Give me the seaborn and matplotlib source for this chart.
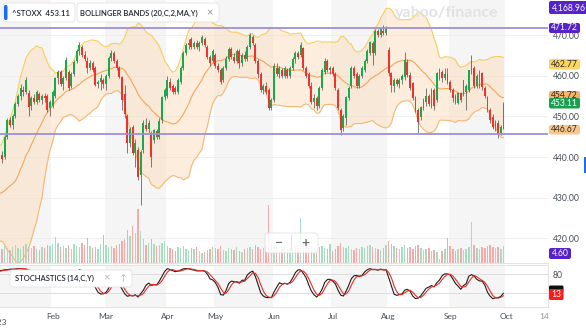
import numpy as np
import pandas as pd
import matplotlib
matplotlib.use("Agg")
import matplotlib.pyplot as plt
import seaborn as sns
from matplotlib.patches import FancyBboxPatch, Rectangle
from matplotlib.transforms import IdentityTransform

sns.set_theme(style="white")
plt.rcParams["font.family"] = ["Lato", "DejaVu Sans"]

# ---------------- data ----------------
holidays = ["2023-04-07", "2023-04-10", "2023-05-01"]
dec_closes = [441.5, 439.0, 437.5, 434.5, 435.5, 437.0, 436.0, 440.5, 440.0, 428.5,
              424.0, 425.0, 423.5, 429.5, 424.5, 426.0, 428.5, 425.5, 430.5, 424.9]

opens = [
    425.0, 431.5, 435.0, 440.5, 440.0, 445.0, 449.0, 448.0, 450.0, 453.0, 455.0, 456.5, 456.0, 455.7, 452.5, 454.5, 453.5, 455.5, 454.0, 455.0, 455.0, 452.0,
    452.5, 455.0, 459.5, 461.0, 458.0, 459.5, 461.0, 457.5, 460.5, 463.5, 466.0, 467.0, 465.0, 463.5, 462.0, 463.0, 461.9, 458.0, 458.5, 459.0,
    458.0, 460.0, 464.3, 465.5, 463.5, 462.0, 459.7, 455.5, 450.0, 443.5, 447.4, 441.0, 441.7, 435.5, 441.7, 448.0, 447.0, 446.0, 444.2, 446.5, 445.0, 449.0, 454.8,
    455.0, 458.5, 457.5, 457.0, 456.0, 458.5, 462.0, 465.5, 467.5, 469.0, 467.0, 468.0, 467.0, 468.0, 469.0, 467.0, 464.5, 463.5,
    465.0, 462.5, 461.5, 459.0, 462.0, 464.0, 466.5, 464.5, 463.5, 466.0, 463.0, 465.0, 464.0, 467.0, 469.5, 467.5, 463.5, 460.5, 456.5, 457.5, 456.5, 452.0,
    454.0, 462.0, 460.5, 461.5, 460.0, 461.5, 460.0, 462.0, 464.0, 465.5, 465.0, 466.7, 462.0, 460.5, 457.5, 453.5, 454.5, 452.5, 457.0, 461.0, 463.5, 461.5,
    462.0, 460.5, 456.5, 451.6, 447.2, 449.5, 454.5, 457.5, 462.0, 460.5, 457.5, 460.0, 461.5, 463.5, 465.6, 468.0, 465.6, 471.0, 470.0, 471.0, 470.5,
    466.3, 460.6, 457.5, 459.0, 458.0, 459.0, 459.7, 463.4, 460.2, 458.2, 454.8, 451.6, 449.9, 452.0, 453.5, 455.0, 452.3, 456.5, 454.0, 459.5, 461.0, 459.5, 460.5,
    458.4, 456.5, 455.0, 453.3, 455.7, 455.7, 456.0, 456.5, 461.0, 462.0, 457.5, 459.5, 460.6, 457.0, 454.8, 451.6, 449.9, 447.5, 448.5, 446.0, 447.2,
]
highs = [
    432.0, 436.5, 441.0, 441.5, 445.5, 449.5, 449.8, 450.5, 453.5, 455.5, 458.0, 457.5, 459.8, 456.5, 455.0, 455.5, 456.5, 456.0, 455.5, 455.8, 455.5, 454.0,
    456.5, 459.8, 461.5, 461.5, 460.0, 464.6, 461.5, 461.0, 463.8, 466.5, 468.3, 467.5, 466.0, 464.5, 463.8, 463.5, 462.5, 459.0, 460.5, 459.5,
    460.5, 464.8, 466.3, 466.0, 464.0, 462.5, 460.0, 457.7, 450.5, 447.5, 448.0, 444.5, 442.5, 441.7, 449.0, 449.5, 449.0, 446.5, 447.0, 447.0, 449.5, 455.0, 457.0,
    460.0, 459.5, 458.0, 457.5, 459.5, 462.5, 466.0, 468.0, 469.0, 469.5, 468.5, 468.8, 468.5, 470.0, 469.5, 467.5, 465.0, 466.5,
    465.5, 463.0, 462.0, 462.5, 464.8, 467.0, 467.0, 465.5, 466.5, 466.5, 465.5, 466.0, 467.5, 470.5, 470.0, 468.0, 464.0, 461.0, 458.0, 458.5, 457.0, 454.5,
    463.0, 463.0, 462.5, 462.0, 462.5, 462.0, 462.5, 464.5, 466.0, 466.0, 468.3, 467.0, 462.5, 461.0, 458.5, 455.5, 455.0, 457.5, 462.0, 464.3, 464.0, 462.5,
    462.5, 461.0, 457.0, 452.0, 450.5, 455.0, 457.5, 462.5, 462.5, 461.0, 460.5, 462.5, 464.0, 466.5, 468.5, 468.5, 471.5, 471.5, 472.0, 472.5, 472.3,
    467.0, 461.0, 459.5, 459.5, 459.5, 460.5, 465.8, 464.0, 460.8, 458.5, 455.0, 452.0, 452.5, 454.5, 457.0, 455.5, 457.0, 457.0, 461.0, 462.0, 461.5, 462.0, 462.0,
    459.0, 457.0, 455.5, 456.0, 456.0, 459.0, 458.0, 461.5, 465.0, 462.5, 460.5, 461.5, 461.0, 457.5, 455.0, 452.0, 450.5, 449.0, 449.0, 448.0, 453.5,
]
lows = [
    424.5, 430.5, 434.5, 438.5, 439.5, 444.5, 447.5, 447.0, 449.5, 452.5, 454.0, 455.0, 455.5, 450.0, 451.5, 453.0, 453.0, 453.5, 453.0, 453.5, 451.2, 450.0,
    452.0, 454.5, 458.0, 457.5, 456.5, 459.0, 456.5, 457.0, 460.0, 463.0, 465.0, 464.5, 463.5, 460.6, 461.5, 461.0, 457.5, 457.0, 456.5, 457.0,
    456.5, 459.5, 463.5, 463.0, 461.5, 459.5, 451.6, 449.5, 441.0, 442.5, 440.5, 437.5, 434.4, 428.2, 441.0, 446.5, 446.0, 437.6, 443.5, 444.5, 444.5, 448.5, 454.0,
    454.5, 456.5, 455.5, 455.5, 455.5, 458.0, 461.5, 465.0, 466.5, 466.5, 466.5, 466.5, 466.0, 467.5, 467.0, 464.0, 462.5, 463.0,
    462.0, 461.0, 458.0, 458.5, 461.5, 463.5, 464.0, 463.0, 463.0, 462.0, 462.5, 463.5, 463.5, 466.5, 467.5, 463.0, 459.5, 456.0, 455.5, 455.5, 451.5, 451.5,
    453.5, 460.0, 459.5, 459.5, 459.5, 459.5, 459.5, 461.5, 463.0, 464.0, 464.5, 461.5, 459.5, 457.0, 453.0, 452.0, 451.5, 452.0, 456.5, 460.5, 461.0, 460.5,
    460.0, 456.5, 451.5, 445.4, 446.5, 448.0, 454.0, 457.0, 459.5, 457.0, 457.0, 459.5, 461.0, 463.0, 465.0, 462.6, 465.0, 469.5, 469.5, 470.0, 470.0,
    460.0, 456.0, 456.0, 457.5, 457.0, 458.0, 459.0, 459.8, 456.5, 454.0, 451.2, 446.0, 449.0, 451.5, 452.5, 452.5, 452.0, 451.6, 453.5, 459.0, 458.5, 459.0, 458.0,
    456.0, 453.5, 453.0, 453.0, 453.5, 455.0, 451.5, 456.0, 460.5, 457.0, 457.0, 457.0, 456.5, 454.5, 451.2, 448.5, 447.0, 446.5, 444.7, 445.5, 447.0,
]
closes = [
    431.0, 435.5, 440.5, 439.5, 445.0, 449.0, 448.0, 450.0, 453.0, 455.0, 457.0, 456.0, 459.0, 452.3, 454.5, 453.5, 456.0, 454.0, 455.0, 454.5, 451.6, 453.5,
    456.0, 459.5, 461.0, 458.0, 459.5, 463.8, 457.0, 460.5, 463.4, 466.0, 467.5, 465.0, 464.0, 462.0, 463.0, 461.5, 457.8, 458.5, 459.5, 458.0,
    460.0, 464.3, 465.5, 463.5, 462.0, 459.8, 454.0, 450.5, 443.4, 447.0, 441.0, 443.5, 435.0, 441.2, 448.4, 447.0, 448.5, 440.0, 446.7, 445.0, 448.8, 454.8, 456.5,
    458.9, 457.0, 456.0, 455.9, 459.0, 462.0, 465.5, 467.5, 468.0, 467.0, 468.0, 467.0, 468.0, 469.5, 467.5, 464.5, 463.0, 466.0,
    462.5, 461.5, 458.5, 462.0, 464.0, 466.5, 464.5, 463.5, 466.0, 463.0, 465.0, 464.0, 467.0, 470.0, 468.0, 463.5, 460.5, 456.5, 457.5, 456.0, 452.0, 454.0,
    462.5, 460.5, 462.0, 460.0, 462.0, 460.0, 462.0, 464.0, 465.5, 464.5, 467.5, 462.0, 460.0, 457.5, 453.5, 454.5, 452.5, 457.0, 461.5, 463.5, 461.5, 462.0,
    460.5, 457.0, 452.0, 446.7, 450.0, 454.8, 457.0, 462.0, 460.0, 457.5, 460.0, 462.0, 463.5, 466.0, 468.2, 465.6, 471.0, 470.0, 471.5, 470.5, 471.7,
    460.6, 457.7, 459.0, 458.0, 459.0, 460.0, 463.9, 460.2, 457.0, 454.5, 451.6, 448.6, 452.3, 454.0, 455.0, 453.0, 456.5, 452.5, 460.6, 461.5, 459.5, 460.5, 458.5,
    456.5, 454.5, 453.5, 455.7, 454.0, 458.9, 457.5, 461.4, 463.0, 457.5, 460.0, 461.0, 457.2, 455.0, 451.6, 449.1, 447.4, 448.5, 446.0, 447.4, 453.11,
]
volumes = [
    14, 15, 16, 14, 17, 15, 13, 16, 18, 15, 14, 17, 19, 16, 15, 17, 14, 13, 16, 15, 18, 17,
    19, 26, 20, 16, 17, 15, 18, 14, 19, 17, 16, 20, 18, 25, 17, 15, 16, 14, 19, 28,
    18, 16, 17, 15, 18, 19, 22, 24, 33, 27, 37, 30, 54, 32, 24, 18, 20, 24, 19, 17, 18, 20, 22,
    17, 15, 14, 12, 16, 15, 17, 14, 13, 15, 14, 16, 12, 10, 11, 13, 14, 16,
    15, 14, 17, 13, 12, 15, 14, 13, 16, 12, 11, 14, 15, 16, 14, 18, 16, 14, 15, 17, 58, 19,
    18, 15, 13, 14, 16, 14, 15, 14, 17, 15, 45, 22, 18, 16, 17, 15, 14, 16, 17, 15, 14, 19,
    12, 14, 17, 20, 16, 15, 17, 14, 13, 15, 14, 16, 15, 17, 18, 16, 15, 14, 13, 15, 18,
    22, 19, 17, 15, 14, 16, 18, 15, 16, 14, 17, 18, 15, 13, 14, 15, 12, 13, 11, 4, 12, 14, 25,
    17, 14, 12, 14, 15, 13, 14, 16, 41, 18, 15, 14, 16, 15, 17, 18, 16, 15, 16, 14, 17,
]
month_labels = ["Feb", "Mar", "Apr", "May", "Jun", "Jul", "Aug", "Sep", "Oct"]
price_ticks = [420, 430, 440, 450, 460, 470]
stoch_ticks = [20, 80]
resist_level = 471.72
support_level = 445.6

# ---------------- derived ----------------
dates = pd.bdate_range("2023-01-02", "2023-09-29")
dates = dates[~dates.isin(pd.to_datetime(holidays))]
n = len(closes)
x = np.arange(n)
O = np.array(opens); Hh = np.array(highs); L = np.array(lows); C = np.array(closes)

allc = pd.Series(dec_closes + closes)
mid = allc.rolling(20).mean().to_numpy()[-n:]
sd = allc.rolling(20).std(ddof=0).to_numpy()[-n:]
upper = mid + 2 * sd
lower = mid - 2 * sd

hh = pd.Series(highs).rolling(14, min_periods=1).max()
ll = pd.Series(lows).rolling(14, min_periods=1).min()
raw = 100 * (pd.Series(closes) - ll) / (hh - ll)
kline = raw.rolling(3, min_periods=1).mean().to_numpy()
dline = pd.Series(kline).rolling(3, min_periods=1).mean().to_numpy()

mstart = {}
for i, d in enumerate(dates):
    mstart.setdefault(d.month, i)
mstart[10] = n  # Oct 2

# ---------------- figure ----------------
W, H = 586, 328
fig = plt.figure(figsize=(W / 100, H / 100), dpi=100)
fig.patch.set_facecolor("white")

def fx(px):
    return px / W

def fy(py):
    return 1 - py / H

XL = (2.25, 207.7)
ax = fig.add_axes([0, fy(263), fx(548), 263 / H])
axv = fig.add_axes([0, fy(263), fx(548), 263 / H], sharex=ax)
axs = fig.add_axes([0, fy(306.7), fx(548), 41.7 / H])

shade = "#f5f5f5"
for a in (ax, axs):
    a.set_facecolor("white")
    for m in (1, 3, 5, 7, 9):
        s0 = -10 if m == 1 else mstart[m] - 0.5
        s1 = mstart[m + 1] - 0.5
        a.axvspan(s0, s1, color=shade, lw=0, zorder=0)
    a.set_xlim(*XL)

# main price panel
ax.set_ylim(413.98, 478.6)
for t in price_ticks:
    ax.axhline(t, color="#ebebeb", lw=0.6, zorder=0.5)

ax.fill_between(x, lower, upper, color="#fcdcbd", alpha=0.5, lw=0, zorder=1)
sns.lineplot(x=x, y=upper, ax=ax, color="#f8cd58", lw=0.8, zorder=2)
sns.lineplot(x=x, y=mid, ax=ax, color="#f2a65a", lw=0.8, zorder=2)
sns.lineplot(x=x, y=lower, ax=ax, color="#f5b872", lw=0.8, zorder=2)

up = C >= O
ccol = np.where(up, "#16a950", "#f4302e")
ax.vlines(x, L, Hh, color="#4a4a4a", lw=0.5, zorder=3)
bottoms = np.minimum(O, C)
heights = np.maximum(np.abs(C - O), 0.3)
ax.bar(x, heights, bottom=bottoms, width=0.7, color=ccol, lw=0, zorder=4)

ax.axhline(resist_level, color="#9d90d8", lw=1.3, zorder=5)
ax.axhline(support_level, color="#9d90d8", lw=1.3, zorder=5)

ax.yaxis.tick_right()
ax.set_yticks(price_ticks)
ax.set_yticklabels([f"{t:.2f}" for t in price_ticks])
ax.tick_params(axis="y", length=0, pad=3.6, labelsize=6.2, labelcolor="#464e56")
ax.tick_params(axis="x", bottom=False, labelbottom=False)
for k, sp in ax.spines.items():
    sp.set_visible(k == "bottom")
ax.spines["bottom"].set_color("#e3e3e3")
ax.spines["bottom"].set_linewidth(0.8)

# volume overlay
axv.patch.set_visible(False)
axv.set_ylim(0, 263)
vcol = np.where(up, "#a6dcc0", "#f6a9a9")
axv.bar(x, volumes, width=0.55, color=vcol, lw=0, zorder=1)
axv.axis("off")

# stochastics panel
axs.set_ylim(-22.3, 109.4)
for t in stoch_ticks:
    axs.axhline(t, color="#dcdcdc", lw=0.7, zorder=0.5)
sns.lineplot(x=x, y=kline, ax=axs, color="#1c1c1c", lw=0.8, zorder=3)
sns.lineplot(x=x, y=dline, ax=axs, color="#ec2b26", lw=0.8, zorder=3)
axs.yaxis.tick_right()
axs.set_yticks(stoch_ticks)
axs.set_yticklabels([str(t) for t in stoch_ticks])
axs.tick_params(axis="y", length=0, pad=3.6, labelsize=6.2, labelcolor="#464e56")
xt = [mstart[m] for m in range(2, 11)] + [206.2]
axs.set_xticks(xt)
axs.set_xticklabels(month_labels + ["14"])
axs.tick_params(axis="x", length=0, pad=4.3, labelsize=6.0, labelcolor="#464e56")
axs.get_xticklabels()[-1].set_color("#8d949b")
axs.text(1.1, -0.37, "2023", transform=axs.get_xaxis_transform(), ha="center",
         va="center", fontsize=6.0, color="#464e56", clip_on=False)
for k, sp in axs.spines.items():
    sp.set_visible(k in ("top", "bottom", "right"))
    sp.set_color("#e3e3e3")
    sp.set_linewidth(0.8)
for a in (ax, axs):
    a.set_xlabel("")
    a.set_ylabel("")
axv.set_xlim(*XL)

# ---------------- overlay widgets (pixel coords, top-left origin) ----------------
def pbox(x0, y0, x1, y1, fc, ec="none", lw=0.0, r=2.0, z=20, alpha=1.0):
    p = FancyBboxPatch((x0, H - y1), x1 - x0, y1 - y0,
                       boxstyle=f"round,pad=0,rounding_size={r}",
                       transform=IdentityTransform(), fc=fc, ec=ec, lw=lw,
                       zorder=z, alpha=alpha)
    fig.add_artist(p)

def ptext(px, py, s, size=6.0, color="#232a31", ha="left", weight="normal", z=25):
    fig.text(fx(px), fy(py), s, ha=ha, va="center", fontsize=size, color=color,
             fontweight=weight, zorder=z)

# watermark
ptext(447, 13, "yahoo/finance", size=11.5, color="#e2e2e2", ha="center", weight="bold", z=6)

# top-left legend chips
pbox(3, 3, 75, 22, "white", ec="#e2e2e2", lw=0.6, r=3)
pbox(4, 5, 7.5, 20, "#1e6bf5", r=1.5, z=21)
ptext(12, 13, "^STOXX  453.11", size=5.6, weight="semibold")
pbox(77, 3, 219, 22, "white", ec="#e2e2e2", lw=0.6, r=3)
ptext(80, 13, "BOLLINGER BANDS (20,C,2,MA,Y)", size=5.5, weight="semibold")
ptext(210, 12.5, "\u00d7", size=8, color="#8e8e8e", ha="center")

# stochastics chip
pbox(10, 270, 132, 287, "white", ec="#e2e2e2", lw=0.6, r=3)
ptext(15, 278.5, "STOCHASTICS (14,C,Y)", size=5.5, weight="semibold")
ptext(107, 278, "\u00d7", size=8, color="#b5b5b5", ha="center")
ptext(123, 278.5, "\u2191", size=6.5, color="#b5b5b5", ha="center")

# zoom control
pbox(265, 233, 318, 253, "white", ec="#dedede", lw=0.6, r=3, alpha=0.85)
fig.add_artist(Rectangle((291, H - 251), 0.8, 16, transform=IdentityTransform(),
                         fc="#e0e0e0", ec="none", zorder=21))
ptext(278, 243, "\u2212", size=10, color="#707070", ha="center", weight="bold")
ptext(305, 243, "+", size=10, color="#707070", ha="center", weight="bold")

# right-hand value tags
purple = "#5523c9"
pbox(549, 1, 590, 14, purple, r=2)
ptext(569, 7.7, "4,168.96", size=6.2, color="white", ha="center")
pbox(549, 23, 580, 33, purple, r=2)
ptext(564.5, 28, "471.72", size=6.2, color="white", ha="center")
pbox(549, 59, 580, 69.5, "#fdd55e", r=2)
ptext(564.5, 64.3, "462.77", size=6.2, color="#2b2b2b", ha="center")
pbox(549, 91, 580, 101, "#f8b26a", r=2)
ptext(564.5, 96, "454.72", size=6.2, color="#2b2b2b", ha="center")
pbox(549, 98, 580, 108.5, "#1a9e4f", r=2)
ptext(564.5, 103.3, "453.11", size=6.2, color="white", ha="center")
pbox(549, 125, 580, 134.5, "#fbc68a", r=2)
ptext(564.5, 129.8, "446.67", size=6.2, color="#2b2b2b", ha="center")
pbox(549, 248, 571, 259, purple, r=2)
ptext(560, 253.5, "4.60", size=6.2, color="white", ha="center")
pbox(549, 285.5, 563.5, 292, "#111111", r=1.5)
pbox(549, 289, 563.5, 300, "#ff1a1a", r=1.5, z=22)
ptext(556.3, 294.6, "13", size=6.2, color="white", ha="center", z=26)

# scroll indicator
fig.add_artist(Rectangle((584, H - 173), 2, 16, transform=IdentityTransform(),
                         fc="#1e6bf5", ec="none", zorder=21))

fig.savefig("out.png", dpi=100)
